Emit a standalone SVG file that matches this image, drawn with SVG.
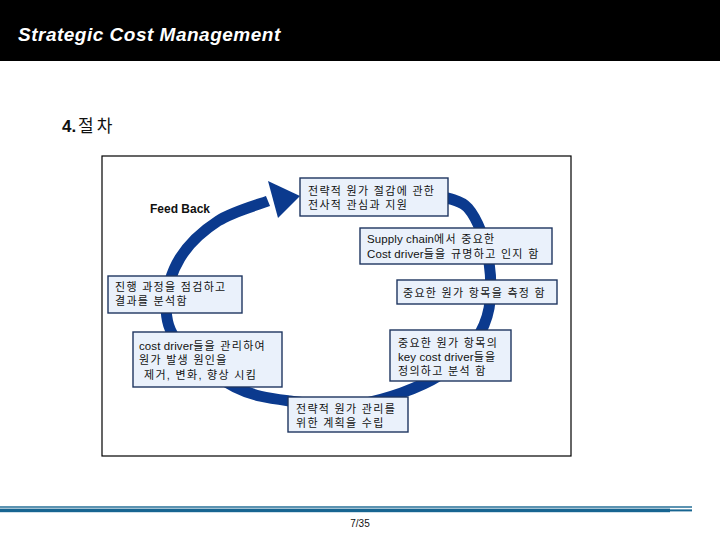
<svg xmlns="http://www.w3.org/2000/svg" width="720" height="540" viewBox="0 0 720 540">
  <style>
    .box { fill: #eaf1fb; stroke: #1e3560; stroke-width: 1.4; }
    .t { font-family: "Liberation Sans", "Noto Sans CJK KR", sans-serif; font-size: 11px; fill: #111; letter-spacing: 1.3px; }
    .l { letter-spacing: 0.1px; font-size: 11.5px; }
    .ring { fill: none; stroke: #0b3a8e; stroke-width: 11; }
    .foot { fill: #176591; }
  </style>
  <rect x="0" y="0" width="720" height="540" fill="#ffffff"/>
  <g id="header">
    <rect x="0" y="0" width="720" height="61" fill="#000000"/>
    <text x="18" y="41" font-family="Liberation Sans, Arial, sans-serif" font-size="19" font-weight="bold" font-style="italic" letter-spacing="0.5" fill="#ffffff">Strategic Cost Management</text>
  </g>
  <g id="section-title">
    <text x="62" y="132" font-family="Liberation Sans, 'Noto Sans CJK KR', sans-serif" font-size="17" fill="#111"><tspan font-weight="bold">4.</tspan><tspan x="78" font-family="'Noto Sans CJK KR', sans-serif" letter-spacing="3">절차</tspan></text>
  </g>
  <rect id="frame" x="102" y="156" width="469" height="300" fill="none" stroke="#000" stroke-width="1.2"/>
  <g id="connectors">
    <path class="ring" d="M430,195 C436.3,197.2 458.2,196.8 468,208 C477.8,219.2 486.3,242.5 489,262 C491.7,281.5 492.2,306.2 484,325 C475.8,343.8 460.7,361.8 440,375 C419.3,388.2 385,399.7 360,404 C335,408.3 310.8,403.8 290,401 C269.2,398.2 253.3,396.3 235,387 C216.7,377.7 191.5,358.7 180,345 C168.5,331.3 166,319.5 166,305 C166,290.5 171.3,272 180,258 C188.7,244 203.3,230.5 218,221 C232.7,211.5 259.7,204.3 268,201"/>
    <polygon points="268,181 300,196 278,218" fill="#0b3a8e"/>
  </g>
  <g id="feedback-label">
    <text x="150" y="213" font-family="Liberation Sans, Arial, sans-serif" font-size="12" font-weight="bold" fill="#111">Feed Back</text>
  </g>
  <g id="node-top">
    <rect class="box" x="300" y="178" width="148" height="38"/>
    <text class="t" x="308" y="195">전략적 원가 절감에 관한</text>
    <text class="t" x="308" y="209">전사적 관심과 지원</text>
  </g>
  <g id="node-supply">
    <rect class="box" x="360" y="228" width="192" height="36"/>
    <text class="t" x="367" y="243"><tspan class="l">Supply chain</tspan>에서 중요한</text>
    <text class="t" x="367" y="258"><tspan class="l">Cost driver</tspan>들을 규명하고 인지 함</text>
  </g>
  <g id="node-measure">
    <rect class="box" x="397" y="280" width="160" height="24"/>
    <text class="t" x="403" y="297">중요한 원가 항목을 측정 함</text>
  </g>
  <g id="node-keydriver">
    <rect class="box" x="390" y="330" width="121" height="51"/>
    <text class="t" x="398" y="347">중요한 원가 항목의</text>
    <text class="t" x="398" y="361"><tspan class="l">key cost driver</tspan>들을</text>
    <text class="t" x="398" y="375">정의하고 분석 함</text>
  </g>
  <g id="node-plan">
    <rect class="box" x="288" y="397" width="120" height="35"/>
    <text class="t" x="296" y="413">전략적 원가 관리를</text>
    <text class="t" x="296" y="427">위한 계획을 수립</text>
  </g>
  <g id="node-manage">
    <rect class="box" x="133" y="332" width="149" height="55"/>
    <text class="t" x="139" y="350"><tspan class="l">cost driver</tspan>들을 관리하여</text>
    <text class="t" x="139" y="364">원가 발생 원인을</text>
    <text class="t" x="144" y="379">제거, 변화, 향상 시킴</text>
  </g>
  <g id="node-review">
    <rect class="box" x="108" y="276" width="134" height="37"/>
    <text class="t" x="115" y="291">진행 과정을 점검하고</text>
    <text class="t" x="115" y="305">결과를 분석함</text>
  </g>
  <g id="footer">
    <rect class="foot" x="0" y="506.3" width="692" height="1.4"/>
    <rect class="foot" x="0" y="508.6" width="670" height="3.6"/>
    <rect class="foot" x="670" y="509.4" width="22" height="2"/>
    <text x="360" y="527" text-anchor="middle" font-family="Liberation Sans, Arial, sans-serif" font-size="10" fill="#111">7/35</text>
  </g>
</svg>
